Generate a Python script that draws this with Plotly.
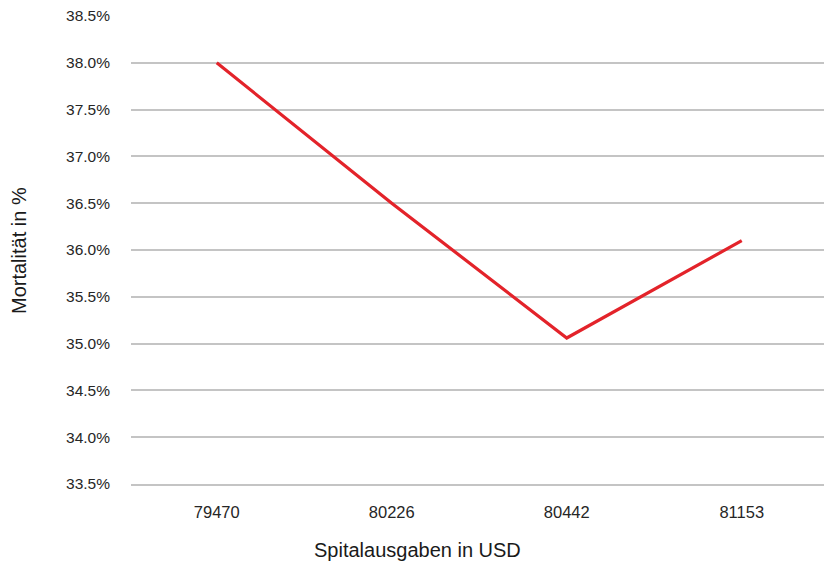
import plotly.graph_objects as go

spending = ["79470", "80226", "80442", "81153"]
mortality = [38.0, 36.5, 35.06, 36.1]
y_ticks = [33.5, 34.0, 34.5, 35.0, 35.5, 36.0, 36.5, 37.0, 37.5, 38.0, 38.5]
y_tick_labels = [f"{v:.1f}%" for v in y_ticks]

FONT = "Liberation Sans, Arial, sans-serif"
GRID = "#C4C4C4"

fig = go.Figure()
fig.add_trace(go.Scatter(
    x=spending, y=mortality, mode="lines",
    line=dict(color="#E3232A", width=3.2),
    hoverinfo="skip", showlegend=False,
))

fig.update_layout(
    width=824, height=563,
    margin=dict(l=131, r=0, t=16, b=79),
    paper_bgcolor="white", plot_bgcolor="white",
    font=dict(family=FONT, size=15, color="#262626"),
    xaxis=dict(
        type="category", range=[-0.49, 3.47],
        showgrid=False, zeroline=False,
        showline=True, linecolor=GRID, linewidth=1.5,
        ticks="", ticklabelstandoff=12,
        tickfont=dict(size=16.5, color="#262626"),
    ),
    yaxis=dict(
        range=[33.5, 38.5], tickvals=y_ticks, ticktext=y_tick_labels,
        showgrid=True, gridcolor=GRID, gridwidth=1.5,
        zeroline=False, showline=False, ticks="",
        ticklabelstandoff=20,
        tickfont=dict(size=15.5, color="#262626"),
    ),
    annotations=[
        dict(text="Spitalausgaben in USD", xref="paper", yref="paper",
             x=(417 - 131) / (824 - 131), y=-(550 - 484) / (484 - 16),
             xanchor="center", yanchor="middle", showarrow=False,
             font=dict(size=20, color="#1a1a1a", family=FONT)),
        dict(text="Mortalität in %", xref="paper", yref="paper",
             x=-(131 - 19) / (824 - 131), y=0.5, textangle=-90,
             xanchor="center", yanchor="middle", showarrow=False,
             font=dict(size=20, color="#1a1a1a", family=FONT)),
    ],
)

fig.write_html("out.html")
